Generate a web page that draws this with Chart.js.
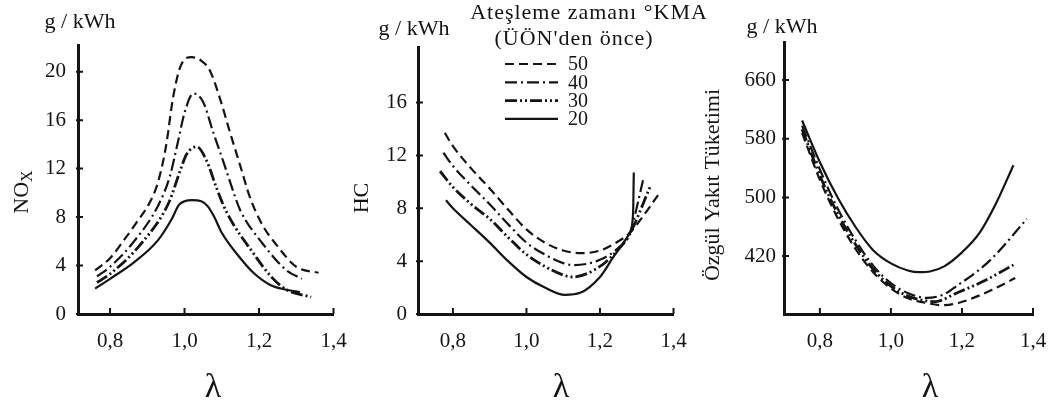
<!DOCTYPE html>
<html lang="tr">
<head>
<meta charset="utf-8">
<title>λ'ya göre NOx, HC ve özgül yakıt tüketimi</title>
<script src="https://cdn.jsdelivr.net/npm/chart.js@4.4.1/dist/chart.umd.min.js"></script>
<style>
  html, body { margin: 0; padding: 0; background: #fff; }
  #wrap { position: relative; width: 1056px; height: 407px; overflow: hidden; }
  #wrap canvas { position: absolute; left: 0; top: 0; }
</style>
</head>
<body>
<div id="wrap">
  <canvas id="chartNox" width="1056" height="407"></canvas>
  <canvas id="chartHc" width="1056" height="407"></canvas>
  <canvas id="chartBsfc" width="1056" height="407"></canvas>
</div>
<script>
// ateşleme avansı serileri (°KMA, ÜÖN'den önce)
const SERIES_LABELS = ["50", "40", "30", "20"];

const LAMBDA_TICKS = [0.8, 1.0, 1.2, 1.4];
const NOX_TICKS = [0, 4, 8, 12, 16, 20];
const HC_TICKS = [0, 4, 8, 12, 16];
const BSFC_TICKS = [420, 500, 580, 660];

// NOx, g/kWh  -> [λ, değer]
const NOX_50 = [[0.76, 3.6], [0.8, 4.6], [0.835, 6.0], [0.87, 7.5], [0.91, 9.4], [0.93, 11.0], [0.95, 13.8], [0.97, 18.0], [0.99, 20.5], [1.019, 21.2], [1.045, 20.9], [1.068, 20.1], [1.095, 17.8], [1.122, 15.0], [1.149, 12.3], [1.176, 9.6], [1.21, 7.3], [1.247, 5.7], [1.3, 3.9], [1.36, 3.4]];
const NOX_40 = [[0.765, 3.1], [0.8, 3.9], [0.862, 5.9], [0.93, 9.0], [0.961, 11.4], [0.983, 14.3], [1.0, 16.6], [1.024, 18.2], [1.05, 17.5], [1.077, 15.0], [1.104, 12.6], [1.131, 10.1], [1.149, 8.6], [1.21, 5.8], [1.274, 3.6], [1.315, 2.9]];
const NOX_30 = [[0.765, 2.6], [0.8, 3.3], [0.889, 6.0], [0.958, 9.2], [0.988, 11.8], [1.006, 13.2], [1.033, 13.8], [1.06, 12.6], [1.086, 10.4], [1.113, 8.4], [1.185, 5.0], [1.235, 3.0], [1.274, 2.0], [1.34, 1.4]];
const NOX_20 = [[0.76, 2.1], [0.8, 2.9], [0.866, 4.3], [0.929, 6.1], [0.965, 7.8], [0.985, 9.0], [1.0, 9.3], [1.02, 9.4], [1.045, 9.3], [1.062, 8.9], [1.08, 8.0], [1.1, 6.7], [1.15, 4.6], [1.185, 3.4], [1.23, 2.4], [1.274, 2.0], [1.31, 1.8]];

// HC, g/kWh
const HC_50 = [[0.778, 13.7], [0.8, 12.7], [0.85, 11.0], [0.9, 9.5], [0.95, 7.9], [1.0, 6.4], [1.05, 5.4], [1.1, 4.8], [1.15, 4.6], [1.2, 4.8], [1.25, 5.5], [1.28, 6.1], [1.32, 7.5], [1.358, 9.0]];
const HC_40 = [[0.774, 12.2], [0.8, 11.2], [0.85, 9.7], [0.9, 8.3], [0.95, 6.8], [1.0, 5.4], [1.05, 4.5], [1.1, 3.85], [1.13, 3.7], [1.2, 4.1], [1.25, 5.0], [1.28, 6.0], [1.318, 10.2]];
const HC_30 = [[0.765, 10.8], [0.8, 9.6], [0.85, 8.3], [0.9, 7.2], [0.95, 5.8], [1.0, 4.5], [1.05, 3.6], [1.1, 2.95], [1.125, 2.8], [1.2, 3.6], [1.25, 4.9], [1.28, 6.0], [1.336, 9.6]];
const HC_20 = [[0.781, 8.6], [0.8, 8.0], [0.85, 6.7], [0.9, 5.4], [0.95, 4.0], [1.0, 2.8], [1.05, 2.0], [1.105, 1.45], [1.146, 1.6], [1.2, 2.8], [1.236, 4.3], [1.264, 5.4], [1.282, 6.2], [1.29, 7.6], [1.292, 10.7]];

// özgül yakıt tüketimi, g/kWh
const BSFC_50 = [[0.75, 588], [0.8, 524], [0.85, 472], [0.9, 430], [0.95, 398], [1.0, 376], [1.05, 362], [1.1, 356], [1.145, 353], [1.19, 356], [1.285, 374], [1.35, 390]];
const BSFC_40 = [[0.75, 598], [0.8, 538], [0.85, 485], [0.9, 442], [0.95, 407], [1.0, 383], [1.05, 369], [1.1, 363], [1.15, 368], [1.19, 381], [1.24, 398], [1.285, 417], [1.383, 471]];
const BSFC_30 = [[0.75, 593], [0.8, 530], [0.85, 478], [0.9, 436], [0.95, 402], [1.0, 379], [1.05, 365], [1.1, 359], [1.126, 358], [1.182, 369], [1.266, 387], [1.345, 408]];
const BSFC_20 = [[0.75, 605], [0.8, 548], [0.85, 500], [0.9, 460], [0.95, 428], [1.0, 410], [1.05, 400], [1.08, 398], [1.11, 399], [1.15, 406], [1.2, 425], [1.25, 452], [1.294, 490], [1.345, 544]];

const INK = "#141414";
const SERIF = '"Liberation Serif", "Times New Roman", serif';

const LINE_STYLES = {
  "50": { dash: [9, 5], width: 2.2 },
  "40": { dash: [12, 4, 2, 4], width: 2.2 },
  "30": { dash: [12, 3, 2, 3, 2, 3], width: 2.8 },
  "20": { dash: [], width: 2.2 },
};

function makeDatasets(seriesList) {
  return seriesList.map((points, i) => {
    const label = SERIES_LABELS[i];
    const st = LINE_STYLES[label];
    return {
      label,
      data: points.map(([x, y]) => ({ x, y })),
      showLine: true,
      borderColor: INK,
      borderWidth: st.width,
      borderDash: st.dash,
      borderCapStyle: "butt",
      pointRadius: 0,
      cubicInterpolationMode: "monotone",
    };
  });
}

// kısa çentikler eksenin iç tarafına
const innerTicks = {
  id: "innerTicks",
  afterDraw(chart) {
    const { ctx, chartArea, scales } = chart;
    ctx.save();
    ctx.strokeStyle = INK;
    ctx.lineWidth = 2;
    ctx.beginPath();
    scales.x.ticks.forEach((t) => {
      const px = scales.x.getPixelForValue(t.value);
      ctx.moveTo(px, chartArea.bottom);
      ctx.lineTo(px, chartArea.bottom - 6);
    });
    scales.y.ticks.forEach((t) => {
      const py = scales.y.getPixelForValue(t.value);
      ctx.moveTo(chartArea.left - 2, py);
      ctx.lineTo(chartArea.left + 5, py);
    });
    ctx.stroke();
    ctx.restore();
  },
};

// eksen yazıları: birim, büyüklük adı, λ
const captions = {
  id: "captions",
  afterDraw(chart, args, opts) {
    const ctx = chart.ctx;
    (opts.items || []).forEach((item) => {
      ctx.save();
      ctx.translate(item.x, item.y);
      if (item.rotate) ctx.rotate(item.rotate);
      ctx.fillStyle = INK;
      ctx.textBaseline = "middle";
      ctx.font = item.font;
      if (item.sub) {
        const w1 = ctx.measureText(item.text).width;
        ctx.font = item.subFont;
        const w2 = ctx.measureText(item.sub).width;
        const x0 = -(w1 + w2) / 2;
        ctx.textAlign = "left";
        ctx.fillText(item.sub, x0 + w1, 6);
        ctx.font = item.font;
        ctx.fillText(item.text, x0, 0);
      } else {
        ctx.textAlign = "center";
        ctx.fillText(item.text, 0, 0);
      }
      ctx.restore();
    });
  },
};

// çizgi tipi açıklaması (orta grafiğin üstünde)
const timingLegend = {
  id: "timingLegend",
  afterDraw(chart, args, opts) {
    const ctx = chart.ctx;
    ctx.save();
    ctx.fillStyle = INK;
    ctx.strokeStyle = INK;
    ctx.textBaseline = "middle";
    ctx.font = opts.titleFont;
    ctx.textAlign = "center";
    if ("letterSpacing" in ctx) ctx.letterSpacing = "1px";
    opts.title.forEach((line, i) => ctx.fillText(line, opts.titleX[i], opts.titleY[i]));
    if ("letterSpacing" in ctx) ctx.letterSpacing = "0px";
    ctx.font = opts.font;
    chart.data.datasets.forEach((ds, i) => {
      const y = opts.rowY0 + i * opts.rowGap;
      ctx.setLineDash(ds.borderDash || []);
      ctx.lineWidth = ds.borderWidth;
      ctx.beginPath();
      ctx.moveTo(opts.lineX0, y);
      ctx.lineTo(opts.lineX1, y);
      ctx.stroke();
      ctx.setLineDash([]);
      ctx.textAlign = "left";
      ctx.fillText(ds.label, opts.textX, y + 1);
    });
    ctx.restore();
  },
};

const TICK_FONT = { family: SERIF, size: 21 };
const CAPTION_FONT = `22px ${SERIF}`;
const LAMBDA_FONT = `34px ${SERIF}`;

function buildPanel(canvasId, datasets, p, extraPlugins = [], extraOptions = {}) {
  return new Chart(document.getElementById(canvasId), {
    type: "scatter",
    data: { datasets },
    plugins: [innerTicks, captions, ...extraPlugins],
    options: {
      responsive: false,
      animation: false,
      layout: {
        padding: { left: 0, top: p.top, right: 1056 - p.right, bottom: 407 - p.bottom - 50 },
      },
      plugins: {
        legend: { display: false },
        tooltip: { enabled: false },
        captions: { items: p.captions },
        ...extraOptions,
      },
      scales: {
        x: {
          type: "linear",
          min: p.xMin,
          max: 1.4,
          afterFit: (s) => { s.height = 50; },
          afterBuildTicks: (s) => { s.ticks = LAMBDA_TICKS.map((v) => ({ value: v })); },
          grid: { display: false },
          border: { display: true, color: INK, width: 3 },
          ticks: {
            color: INK,
            font: TICK_FONT,
            padding: 7,
            autoSkip: false,
            maxRotation: 0,
            callback: (v) => Number(v).toFixed(1).replace(".", ","),
          },
        },
        y: {
          type: "linear",
          min: p.yMin,
          max: p.yMax,
          afterFit: (s) => { s.width = p.left; },
          afterBuildTicks: (s) => { s.ticks = p.yTicks.map((v) => ({ value: v })); },
          grid: { display: false },
          border: { display: true, color: INK, width: 3 },
          ticks: { color: INK, font: TICK_FONT, padding: p.labelGap, autoSkip: false },
        },
      },
    },
  });
}

buildPanel("chartNox", makeDatasets([NOX_50, NOX_40, NOX_30, NOX_20]), {
  left: 78, right: 333.5, top: 45, bottom: 314,
  xMin: 0.714, yMin: 0, yMax: 22.2, yTicks: NOX_TICKS, labelGap: 4,
  captions: [
    { text: "g / kWh", x: 80, y: 22, font: CAPTION_FONT },
    { text: "NO", sub: "X", x: 22, y: 192, rotate: -Math.PI / 2, font: CAPTION_FONT, subFont: `16px ${SERIF}` },
    { text: "λ", x: 213, y: 388, font: LAMBDA_FONT },
  ],
});

buildPanel("chartHc", makeDatasets([HC_50, HC_40, HC_30, HC_20]), {
  left: 418, right: 673.5, top: 47, bottom: 314,
  xMin: 0.705, yMin: 0, yMax: 20.2, yTicks: HC_TICKS, labelGap: 3,
  captions: [
    { text: "g / kWh", x: 414, y: 29, font: CAPTION_FONT },
    { text: "HC", x: 362, y: 198, rotate: -Math.PI / 2, font: CAPTION_FONT },
    { text: "λ", x: 561, y: 388, font: LAMBDA_FONT },
  ],
}, [timingLegend], {
  timingLegend: {
    title: ["Ateşleme zamanı °KMA", "(ÜÖN'den önce)"],
    titleX: [589, 574], titleY: [13, 39],
    titleFont: `22px ${SERIF}`,
    font: `20px ${SERIF}`,
    rowY0: 64, rowGap: 18.3,
    lineX0: 505, lineX1: 558, textX: 568,
  },
});

buildPanel("chartBsfc", makeDatasets([BSFC_50, BSFC_40, BSFC_30, BSFC_20]), {
  left: 784, right: 1033, top: 42, bottom: 314,
  xMin: 0.699, yMin: 341, yMax: 712, yTicks: BSFC_TICKS, labelGap: 0,
  captions: [
    { text: "g / kWh", x: 782, y: 27, font: CAPTION_FONT },
    { text: "Özgül Yakıt Tüketimi", x: 713, y: 185, rotate: -Math.PI / 2, font: CAPTION_FONT },
    { text: "λ", x: 930, y: 388, font: LAMBDA_FONT },
  ],
});
</script>
</body>
</html>
